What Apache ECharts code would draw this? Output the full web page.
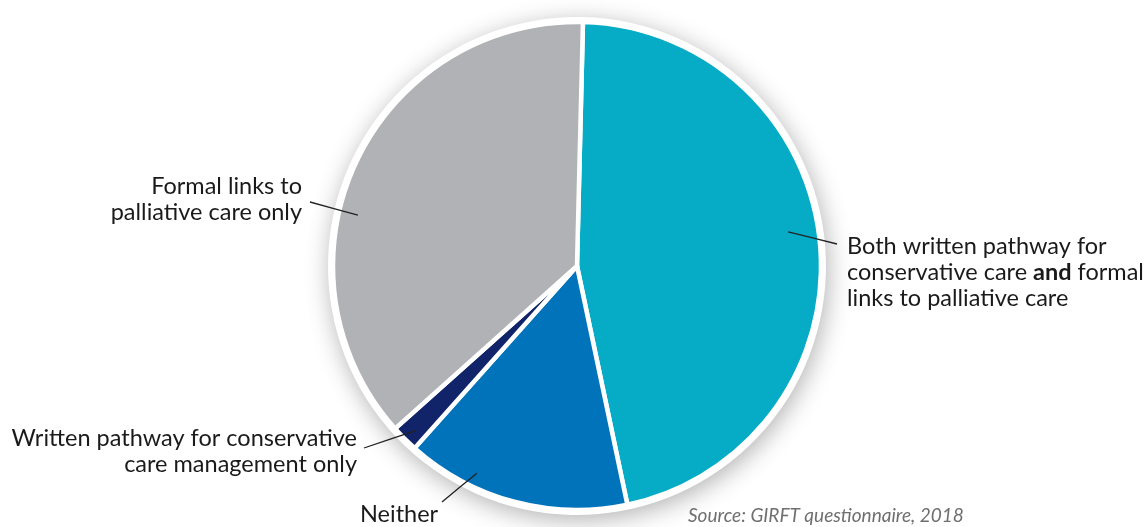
<!DOCTYPE html>
<html>
<head>
<meta charset="utf-8">
<script src="https://cdn.jsdelivr.net/npm/echarts@6/dist/echarts.min.js"></script>
<style>
html,body{margin:0;padding:0;background:#fff;}
#c{width:1144px;height:527px;}
</style>
</head>
<body>
<div id="c"></div>
<script>
const categories = [
  'Both written pathway for conservative care and formal links to palliative care',
  'Neither',
  'Written pathway for conservative care management only',
  'Formal links to palliative care only'
];
const values = [46.3, 14.9, 1.8, 37.0];
const colors = ['#06abc6', '#0073bb', '#11246a', '#b1b2b6'];
const labelTexts = [
  '{n|Both written pathway for}\n{n|conservative care }{b|and}{n| formal}\n{n|links to palliative care}',
  '{n|Neither}',
  '{n|Written pathway for conservative}\n{n|care management only}',
  '{n|Formal links to}\n{n|palliative care only}'
];
const sourceText = 'Source: GIRFT questionnaire, 2018';

const center = [577, 266];
const R = 244;
const startAngle = 88.6;

// label placements (anchor x, y, align), leader line: inner end as polar (deg clockwise from top, radius fraction),
// outer end as offset from label anchor
const labelPlace = [
  {x: 847, y: 272, align: 'left',  ang: 80.8,  rf: 0.877, ox: -10, oy: -28},
  {x: 360, y: 514, align: 'left',  ang: 205.8, rf: 0.943, ox: 82,  oy: -12},
  {x: 357, y: 451, align: 'right', ang: 224.5, rf: 0.947, ox: 7,   oy: -3},
  {x: 302, y: 199, align: 'right', ang: 283.1, rf: 0.922, ox: 8,   oy: 3}
];

const chart = echarts.init(document.getElementById('c'), null, {renderer: 'canvas'});
const font = 'Lato, "Open Sans", sans-serif';

chart.setOption({
  animation: false,
  backgroundColor: '#fff',
  series: [
    {
      type: 'pie',
      silent: true,
      center: center,
      radius: R + 5,
      startAngle: startAngle,
      label: {show: false},
      labelLine: {show: false},
      itemStyle: {
        color: '#fff',
        shadowBlur: 24,
        shadowColor: 'rgba(0,0,0,0.30)',
        shadowOffsetX: 2,
        shadowOffsetY: 5
      },
      data: [{value: 1, name: 'bg'}],
      z: 1
    },
    {
      type: 'pie',
      silent: true,
      center: center,
      radius: R,
      startAngle: startAngle,
      clockwise: true,
      label: {show: false},
      labelLine: {show: false},
      itemStyle: {borderColor: '#fff', borderWidth: 4.5},
      data: categories.map((c, i) => ({name: c, value: values[i], itemStyle: {color: colors[i]}})),
      z: 2
    },
    {
      type: 'pie',
      silent: true,
      center: center,
      radius: R * 0.9,
      startAngle: startAngle,
      clockwise: true,
      itemStyle: {color: 'rgba(0,0,0,0)'},
      emphasis: {disabled: true},
      label: {
        show: true,
        position: 'outside',
        formatter: p => labelTexts[p.dataIndex],
        rich: {
          n: {fontFamily: font, fontSize: 23.5, color: '#1a1a1a', lineHeight: 26},
          b: {fontFamily: font, fontSize: 23.5, color: '#1a1a1a', lineHeight: 26, fontWeight: 'bold'}
        }
      },
      labelLine: {
        show: true,
        length: 10,
        length2: 10,
        lineStyle: {color: '#222', width: 1.3}
      },
      labelLayout: function (params) {
        const p = labelPlace[params.dataIndex];
        const a = p.ang * Math.PI / 180;
        const inner = [center[0] + Math.sin(a) * R * p.rf, center[1] - Math.cos(a) * R * p.rf];
        const outer = [p.x + p.ox, p.y + p.oy];
        const mid = [(inner[0] + outer[0]) / 2, (inner[1] + outer[1]) / 2];
        return {
          x: p.x, y: p.y, align: p.align, verticalAlign: 'middle',
          labelLinePoints: [inner, mid, outer]
        };
      },
      data: categories.map((c, i) => ({name: c, value: values[i]})),
      z: 3
    }
  ],
  graphic: [
    {
      type: 'text',
      left: 688,
      top: 506,
      style: {
        text: sourceText,
        fontFamily: font,
        fontStyle: 'italic',
        fontSize: 19,
        fill: '#6f6f6f'
      },
      z: 10
    }
  ]
});
</script>
</body>
</html>
